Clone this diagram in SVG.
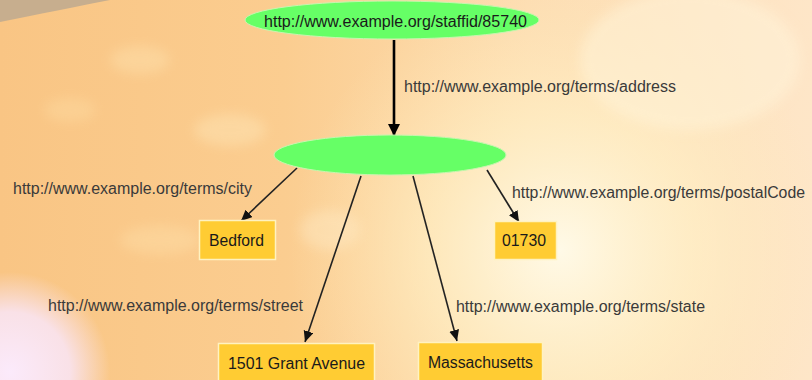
<svg xmlns="http://www.w3.org/2000/svg" width="812" height="380" viewBox="0 0 812 380">
  <defs>
    <linearGradient id="bgBase" x1="0" y1="0" x2="1" y2="0">
      <stop offset="0" stop-color="#F9C584"/>
      <stop offset="0.35" stop-color="#FBCD90"/>
      <stop offset="0.65" stop-color="#FDDDB2"/>
      <stop offset="1" stop-color="#FEE6C8"/>
    </linearGradient>
    <radialGradient id="glow" cx="560" cy="250" r="270" gradientUnits="userSpaceOnUse">
      <stop offset="0" stop-color="#FFFBEA" stop-opacity="0.95"/>
      <stop offset="0.5" stop-color="#FFF2C8" stop-opacity="0.6"/>
      <stop offset="1" stop-color="#FFE9B8" stop-opacity="0"/>
    </radialGradient>
    <radialGradient id="lilac" cx="10" cy="372" r="100" gradientUnits="userSpaceOnUse">
      <stop offset="0" stop-color="#FBEAFB"/>
      <stop offset="0.6" stop-color="#F9E4F2" stop-opacity="0.9"/>
      <stop offset="1" stop-color="#F9E4F2" stop-opacity="0"/>
    </radialGradient>
    <filter id="soft" x="-20%" y="-20%" width="140%" height="140%">
      <feGaussianBlur stdDeviation="6"/>
    </filter>
    <marker id="headBig" markerUnits="userSpaceOnUse" markerWidth="14" markerHeight="14" refX="12" refY="6" orient="auto">
      <path d="M0,0 L12,6 L0,12 Z" fill="#000"/>
    </marker>
    <marker id="head" markerUnits="userSpaceOnUse" markerWidth="12" markerHeight="12" refX="11" refY="5" orient="auto">
      <path d="M0,0 L11,5 L0,10 Z" fill="#111"/>
    </marker>
    <style>
      .res { fill: #66FF66; stroke: #C8F5B0; stroke-width: 1; }
      .lit { fill: #FFCC33; stroke: #FFF2C0; stroke-width: 1.5; }
      .txt { font-family: "Liberation Sans", Arial, sans-serif; font-size: 16px; fill: #1A1A1A; }
      .lbl { font-family: "Liberation Sans", Arial, sans-serif; font-size: 16px; fill: #3A3A3A; }
      .edge { stroke: #222; stroke-width: 1.6; fill: none; marker-end: url(#head); }
      .edgeMain { stroke: #000; stroke-width: 2.6; fill: none; marker-end: url(#headBig); }
    </style>
  </defs>

  <!-- backdrop -->
  <rect width="812" height="380" fill="url(#bgBase)"/>
  <rect width="812" height="380" fill="url(#glow)"/>
  <ellipse cx="690" cy="60" rx="110" ry="70" fill="#FFF4DA" opacity="0.5" filter="url(#soft)"/>
  <rect width="812" height="380" fill="url(#lilac)"/>
  <g filter="url(#soft)" opacity="0.35">
    <ellipse cx="140" cy="60" rx="30" ry="14" fill="#FFE8B8"/>
    <ellipse cx="70" cy="110" rx="26" ry="12" fill="#FFE0A8"/>
    <ellipse cx="230" cy="130" rx="36" ry="16" fill="#FFEEC4"/>
    <ellipse cx="160" cy="240" rx="40" ry="14" fill="#FFE4B0"/>
    <ellipse cx="330" cy="230" rx="30" ry="20" fill="#FFF0D0"/>
  </g>
  <path d="M0,0 L110,0 C80,6 40,14 0,22 Z" fill="#C7AE8E"/>

  <!-- connectors -->
  <g id="connectors">
    <line class="edgeMain" x1="394" y1="40" x2="394" y2="136"/>
    <line class="edge" x1="297" y1="168" x2="241" y2="221"/>
    <line class="edge" x1="361" y1="176" x2="305" y2="342"/>
    <line class="edge" x1="413" y1="176" x2="457" y2="341"/>
    <line class="edge" x1="487" y1="170" x2="519" y2="222"/>
  </g>

  <!-- edge labels -->
  <g id="edge-labels">
    <text class="lbl" x="404" y="92" textLength="272" lengthAdjust="spacingAndGlyphs">http://www.example.org/terms/address</text>
    <text class="lbl" x="13" y="194" textLength="239" lengthAdjust="spacingAndGlyphs">http://www.example.org/terms/city</text>
    <text class="lbl" x="512" y="198" textLength="293" lengthAdjust="spacingAndGlyphs">http://www.example.org/terms/postalCode</text>
    <text class="lbl" x="48" y="311" textLength="255" lengthAdjust="spacingAndGlyphs">http://www.example.org/terms/street</text>
    <text class="lbl" x="456" y="312" textLength="249" lengthAdjust="spacingAndGlyphs">http://www.example.org/terms/state</text>
  </g>

  <!-- nodes -->
  <g id="staff">
    <ellipse class="res" cx="392" cy="20" rx="147" ry="19"/>
    <text class="txt" x="264" y="27" textLength="263" lengthAdjust="spacingAndGlyphs">http://www.example.org/staffid/85740</text>
  </g>
  <g id="address">
    <ellipse class="res" cx="390" cy="155" rx="116" ry="20"/>
  </g>
  <g id="city">
    <rect class="lit" x="199.5" y="220.5" width="76" height="39"/>
    <text class="txt" x="209" y="246" textLength="55" lengthAdjust="spacingAndGlyphs">Bedford</text>
  </g>
  <g id="postalCode">
    <rect class="lit" x="494.5" y="221.5" width="62" height="38"/>
    <text class="txt" x="502" y="246" textLength="44" lengthAdjust="spacingAndGlyphs">01730</text>
  </g>
  <g id="street">
    <rect class="lit" x="218.5" y="343.5" width="156" height="40"/>
    <text class="txt" x="228" y="369" textLength="137" lengthAdjust="spacingAndGlyphs">1501 Grant Avenue</text>
  </g>
  <g id="state">
    <rect class="lit" x="418.5" y="342.5" width="124" height="40"/>
    <text class="txt" x="428" y="368" textLength="105" lengthAdjust="spacingAndGlyphs">Massachusetts</text>
  </g>
</svg>
